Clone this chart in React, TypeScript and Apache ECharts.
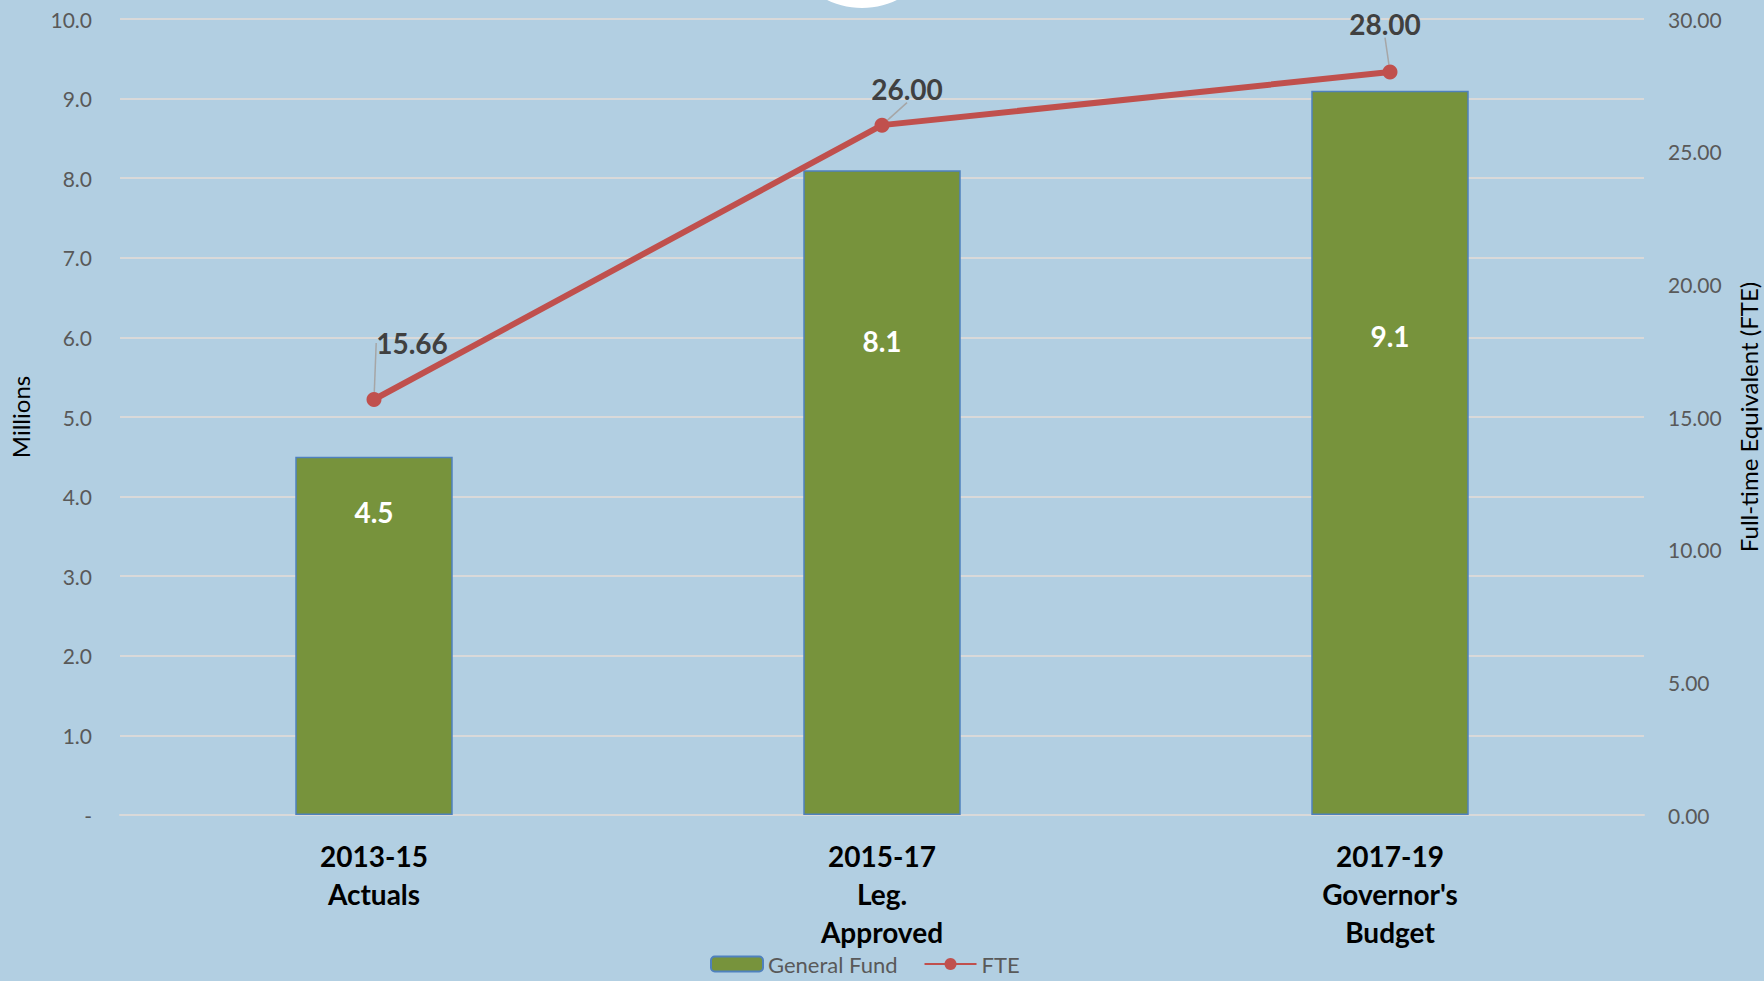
import React, { useEffect, useRef } from "react";
import * as echarts from "echarts";

const categories = ["2013-15\nActuals", "2015-17\nLeg.\nApproved", "2017-19\nGovernor's\nBudget"];
const generalFund = [4.5, 8.1, 9.1];
const fte = [15.66, 26.0, 28.0];

const barLabelDy = [36, 152, 226];
const lineLabelDx = [38, 25, -5];
const lineLabelDy = [-30, -10, -22];

const FONT = "Lato, 'Open Sans', sans-serif";

export default function App() {
  const ref = useRef<HTMLDivElement>(null);
  useEffect(() => {
    if (!ref.current) return;
    const chart = echarts.init(ref.current, null, { renderer: "svg" });
    chart.setOption({
      animation: false,
      backgroundColor: "#B2CFE2",
      textStyle: { fontFamily: FONT },
      graphic: [
        {
          type: "circle",
          shape: { cx: 862, cy: -72, r: 80 },
          style: { fill: "#FFFFFF" },
          silent: true,
        },
      ],
      grid: {
        left: 120,
        right: 120,
        top: 19,
        bottom: 166,
        containLabel: false,
        outerBoundsMode: "none",
      },
      legend: {
        left: 710,
        top: 951,
        itemWidth: 52,
        itemHeight: 15,
        itemGap: 26,
        padding: 0,
        textStyle: { color: "#595959", fontSize: 22, fontFamily: FONT, lineHeight: 26 },
        data: [
          { name: "General Fund", itemStyle: { color: "#77933C", borderColor: "#4F81BD", borderWidth: 2 } },
          { name: "FTE" },
        ],
      },
      xAxis: {
        type: "category",
        data: categories,
        axisTick: { show: false },
        axisLine: { show: true, lineStyle: { color: "#D9D9D9", width: 2 } },
        axisLabel: {
          color: "#000000",
          fontSize: 28,
          fontWeight: "bold",
          lineHeight: 38,
          margin: 22,
          verticalAlign: "top",
          fontFamily: FONT,
        },
      },
      yAxis: [
        {
          type: "value",
          min: 0,
          max: 10,
          interval: 1,
          name: "Millions",
          nameLocation: "middle",
          nameGap: 88,
          nameTextStyle: { color: "#000000", fontSize: 24, fontFamily: FONT },
          axisLine: { show: false },
          axisTick: { show: false },
          axisLabel: {
            color: "#595959",
            fontSize: 21,
            margin: 28,
            fontFamily: FONT,
            formatter: (v: number) => (v === 0 ? "-" : v.toFixed(1)),
          },
          splitLine: { show: true, lineStyle: { color: "#D9D9D9", width: 2 } },
        },
        {
          type: "value",
          min: 0,
          max: 30,
          interval: 5,
          name: "Full-time Equivalent (FTE)",
          nameLocation: "middle",
          nameGap: 92,
          nameRotate: 90,
          nameTextStyle: { color: "#000000", fontSize: 24, fontFamily: FONT },
          axisLine: { show: false },
          axisTick: { show: false },
          axisLabel: {
            color: "#595959",
            fontSize: 21,
            margin: 24,
            fontFamily: FONT,
            formatter: (v: number) => v.toFixed(2),
          },
          splitLine: { show: false },
        },
      ],
      series: [
        {
          name: "General Fund",
          type: "bar",
          data: generalFund,
          barWidth: "31%",
          yAxisIndex: 0,
          itemStyle: { color: "#77933C", borderColor: "#4F81BD", borderWidth: 1.5 },
          label: {
            show: true,
            position: "insideTop",
            distance: 5,
            color: "#FFFFFF",
            fontSize: 28,
            fontWeight: "bold",
            fontFamily: FONT,
            formatter: (p: any) => Number(p.value).toFixed(1),
          },
          labelLayout: (p: any) => ({ dy: barLabelDy[p.dataIndex] }),
        },
        {
          name: "FTE",
          type: "line",
          data: fte,
          yAxisIndex: 1,
          symbol: "circle",
          symbolSize: 15,
          lineStyle: { color: "#C0504D", width: 6 },
          itemStyle: { color: "#C0504D" },
          label: {
            show: true,
            position: "top",
            distance: 5,
            color: "#404040",
            fontSize: 28,
            fontWeight: "bold",
            fontFamily: FONT,
            formatter: (p: any) => Number(p.value).toFixed(2),
          },
          labelLine: { show: true, lineStyle: { color: "#A6A6A6", width: 1.5 } },
          labelLayout: (p: any) => ({ dx: lineLabelDx[p.dataIndex], dy: lineLabelDy[p.dataIndex] }),
        },
      ],
    });
    return () => chart.dispose();
  }, []);
  return (
    <div
      ref={ref}
      style={{ position: "fixed", left: 0, top: 0, width: 1764, height: 981 }}
    />
  );
}
